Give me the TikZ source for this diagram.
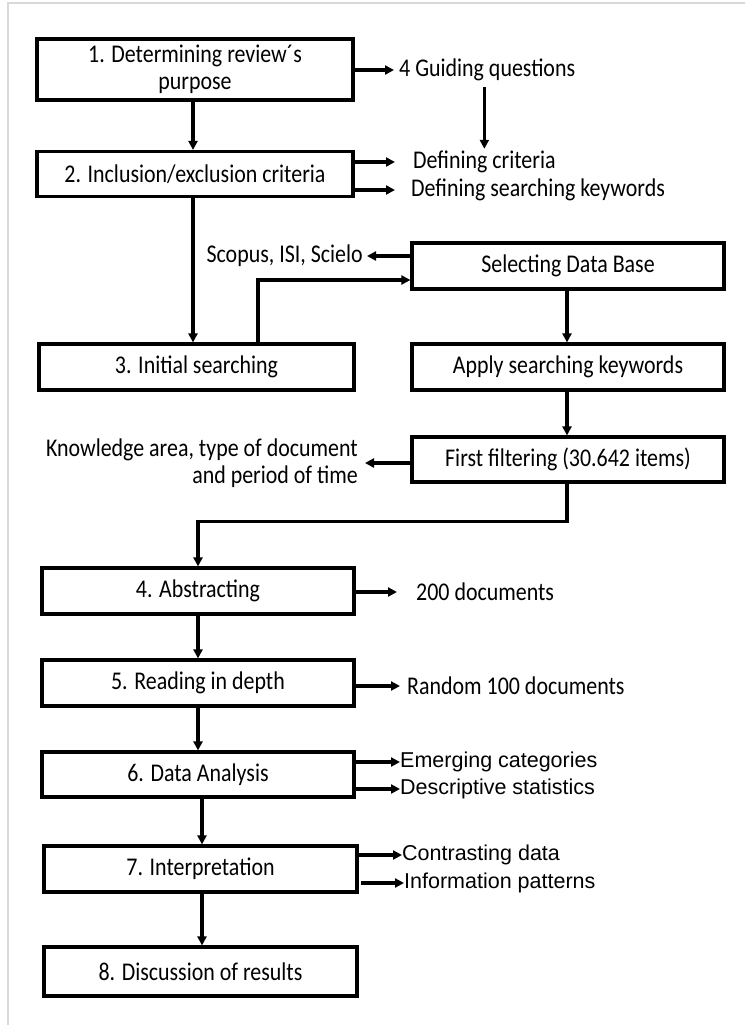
\documentclass[tikz,border=0pt]{standalone}
\usepackage{fontspec}
\setmainfont{Carlito}[FakeStretch=0.86]
\newfontfamily\arialfont{Liberation Sans}
\usetikzlibrary{arrows.meta}
\tikzset{
  box/.style={draw=black, line width=3.2pt, fill=white, font=\fontsize{25.5}{27}\selectfont, align=center, inner sep=0pt},
  lbl/.style={font=\fontsize{25.5}{27}\selectfont, inner sep=0pt},
  albl/.style={font=\arialfont\fontsize{21.5}{24}\selectfont, inner sep=0pt},
  arr/.style={line width=3.2pt, -{Triangle[length=9pt,width=9pt]}},
}
\begin{document}
\begin{tikzpicture}[x=1pt,y=-1pt]
\useasboundingbox (0,0) rectangle (745,1025);
\fill[white] (0,0) rectangle (745,1025);
\draw[black!15, line width=1.5pt] (745,3) -- (8,3) -- (8,1025);
% main boxes
\node[box, minimum width=316pt, minimum height=61pt] (b1) at (195,69.5) {1. Determining review´s\\purpose};
\node[box, minimum width=316pt, minimum height=45pt] (b2) at (195,174) {2. Inclusion/exclusion criteria};
\node[box, minimum width=315pt, minimum height=46pt] (b3) at (196.5,367) {3. Initial searching};
\node[box, minimum width=312pt, minimum height=46pt] (sel) at (568,266) {Selecting Data Base};
\node[box, minimum width=312pt, minimum height=46pt] (app) at (568,367) {Apply searching keywords};
\node[box, minimum width=312pt, minimum height=45pt] (fst) at (568,459.5) {First filtering (30.642 items)};
\node[box, minimum width=312pt, minimum height=46pt] (b4) at (198,591) {4. Abstracting};
\node[box, minimum width=312pt, minimum height=46pt] (b5) at (198,683) {5. Reading in depth};
\node[box, minimum width=312pt, minimum height=45pt] (b6) at (198,774.5) {6. Data Analysis};
\node[box, minimum width=313pt, minimum height=46pt] (b7) at (200.5,869) {7. Interpretation};
\node[box, minimum width=313pt, minimum height=49pt] (b8) at (200.5,971.5) {8. Discussion of results};
% labels
\node[lbl, anchor=west] (g4) at (399,70) {4 Guiding questions};
\node[lbl, anchor=west] (dc) at (413,162) {Defining criteria};
\node[lbl, anchor=west] (dk) at (411,190) {Defining searching keywords};
\node[lbl, anchor=east] (sc) at (363,256) {Scopus, ISI, Scielo};
\node[lbl, anchor=east, align=right] (ka) at (358,463) {Knowledge area, type of document\\and period of time};
\node[lbl, anchor=west] (d200) at (416,592) {200 documents};
\node[lbl, anchor=west] (r100) at (407,686) {Random 100 documents};
\node[albl, anchor=west] (em) at (400,762) {Emerging categories};
\node[albl, anchor=west] (ds) at (400,789) {Descriptive statistics};
\node[albl, anchor=west] (cd) at (402,855) {Contrasting data};
\node[albl, anchor=west] (ip) at (404,883) {Information patterns};
% connectors
\draw[arr] (b1.east |- g4.west) -- ([xshift=-5pt]g4.west);
\draw[arr] ([xshift=-2pt]b1.south) -- ([xshift=-2pt]b1.south |- b2.north);
\draw[arr] ([yshift=-6pt]g4.south -| dc.north) -- ([yshift=2pt]dc.north);
\draw[arr] (b2.east |- dc.west) -- ([xshift=-18pt]dc.west);
\draw[arr] (b2.east |- dk.west) -- ([xshift=-16pt]dk.west);
\draw[arr] ([xshift=-2pt]b2.south) -- ([xshift=-2pt]b2.south |- b3.north);
\draw[arr] (sel.west |- sc.east) -- ([xshift=4pt]sc.east);
\draw[arr] ([xshift=61.5pt]b3.north) |- ([yshift=-14pt]sel.west);
\draw[arr] ([xshift=-1pt]sel.south) -- ([xshift=-1pt]app.north);
\draw[arr] ([xshift=-1pt]app.south) -- ([xshift=-1pt]fst.north);
\draw[arr] (fst.west |- ka.east) -- ([xshift=7pt]ka.east);
\draw[arr] ([xshift=-1pt]fst.south) -- ++(0,38) -| (b4.north);
\draw[arr] (b4.east |- d200.west) -- ([xshift=-19pt]d200.west);
\draw[arr] (b4.south) -- (b5.north);
\draw[arr] (b5.east |- r100.west) -- ([xshift=-7pt]r100.west);
\draw[arr] (b5.south) -- (b6.north);
\draw[arr] (b6.east |- em.west) -- (em.west);
\draw[arr] (b6.east |- ds.west) -- (ds.west);
\draw[arr] ([xshift=4pt]b6.south) -- ([xshift=4pt]b6.south |- b7.north);
\draw[arr] (b7.east |- cd.west) -- (cd.west);
\draw[arr] ([xshift=2pt]b7.east |- ip.west) -- (ip.west);
\draw[arr] ([xshift=1.5pt]b7.south) -- ([xshift=1.5pt]b8.north);
\end{tikzpicture}
\end{document}
